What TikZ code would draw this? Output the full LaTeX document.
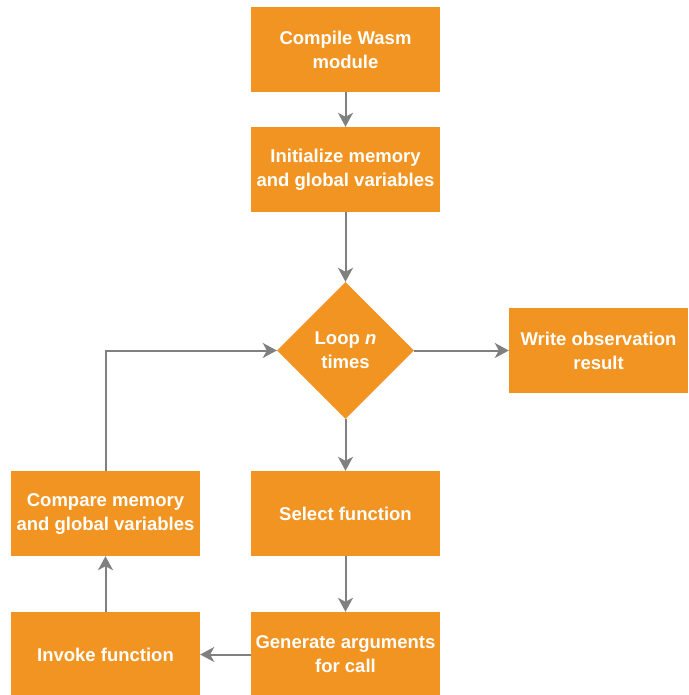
\documentclass[tikz,border=0pt]{standalone}
\usepackage{fontspec}
\setmainfont{Liberation Sans}
\usetikzlibrary{arrows.meta,shapes.geometric}
\definecolor{boxorange}{RGB}{241,148,33}
\definecolor{arrowgray}{RGB}{128,128,128}
\begin{document}
\begin{tikzpicture}[x=1pt,y=-1pt,
  box/.style={fill=boxorange,draw=none,minimum width=189pt,minimum height=85pt,inner sep=0pt,
    align=center,text=white,font=\bfseries\fontsize{18.5}{24}\selectfont},
  dia/.style={diamond,fill=boxorange,draw=none,minimum width=137pt,minimum height=137pt,inner sep=0pt,
    align=center,text=white,font=\bfseries\fontsize{18.5}{24}\selectfont},
  conn/.style={draw=arrowgray,line width=2pt,-{Stealth[length=14pt,width=15pt,inset=4pt]}}]
\useasboundingbox (0,0) rectangle (688,695);
\node[box] (compile) at (345.5,49.5) {Compile Wasm\\module};
\node[box] (init) at (345.5,169.5) {Initialize memory\\and global variables};
\node[dia] (loop) at (345.5,350.5) {Loop \textit{n}\\times};
\node[box,minimum width=179pt] (write) at (598.5,350.5) {Write observation\\result};
\node[box] (select) at (345.5,513.5) {Select function};
\node[box] (gen) at (345.5,654.5) {Generate arguments\\for call};
\node[box] (compare) at (105.5,513.5) {Compare memory\\and global variables};
\node[box] (invoke) at (105.5,654.5) {Invoke function};
\coordinate (corner) at (105.5,350.5);
\draw[conn] (compile) -- (init);
\draw[conn] (init) -- (loop);
\draw[conn] (loop) -- (write);
\draw[conn] (loop) -- (select);
\draw[conn] (select) -- (gen);
\draw[conn] (gen) -- (invoke);
\draw[conn] (invoke) -- (compare);
\draw[conn] (compare.north) -- (corner) -- (loop.west);
\end{tikzpicture}
\end{document}
